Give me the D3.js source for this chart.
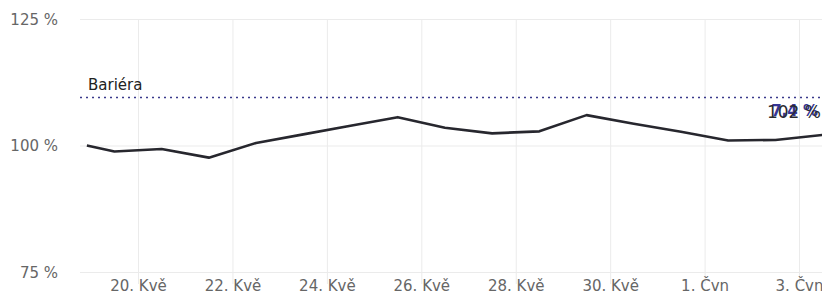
<!DOCTYPE html>
<html>
<head>
<meta charset="utf-8">
<script src="https://cdn.jsdelivr.net/npm/d3@7"></script>
<style>
  body { margin: 0; background: #fff; }
  text { font-family: "DejaVu Sans", sans-serif; }
</style>
</head>
<body>
<div id="main"></div>
<script>
var ctx = {
    w: 822,
    h: 300,
    left: 80,
    right: 822,
    top: 19,
    bottom: 272
};

// data
var dates = ["2024-05-18T22:00", "2024-05-19T12:00", "2024-05-20T12:00", "2024-05-21T12:00",
             "2024-05-22T12:00", "2024-05-23T12:00", "2024-05-24T12:00", "2024-05-25T12:00",
             "2024-05-26T12:00", "2024-05-27T12:00", "2024-05-28T12:00", "2024-05-29T12:00",
             "2024-05-30T12:00", "2024-05-31T12:00", "2024-06-01T12:00", "2024-06-02T12:00",
             "2024-06-03T12:00"];
var values = [100.0, 98.8, 99.3, 97.6, 100.5, 102.2, 103.9, 105.6, 103.5, 102.4, 102.8, 106.0,
              104.3, 102.7, 101.0, 101.1, 102.1];
var barrier = 109.5;
var barrierLabel = "Bariéra";
var yTicks = [75, 100, 125];
var xTicks = ["2024-05-20", "2024-05-22", "2024-05-24", "2024-05-26", "2024-05-28",
              "2024-05-30", "2024-06-01", "2024-06-03"];
var lastLabel = "102 %";
var distLabel = "7,4 %";

var parse = d3.timeParse("%Y-%m-%dT%H:%M");
var parseDay = d3.timeParse("%Y-%m-%d");

var cs = d3.timeFormatLocale({
    dateTime: "%A, %e. %B %Y, %X",
    date: "%-d. %-m. %Y",
    time: "%H:%M:%S",
    periods: ["AM", "PM"],
    days: ["neděle", "pondělí", "úterý", "středa", "čvrtek", "pátek", "sobota"],
    shortDays: ["ne.", "po.", "út.", "st.", "čt.", "pá.", "so."],
    months: ["leden", "únor", "březen", "duben", "květen", "červen", "červenec", "srpen", "září", "říjen", "listopad", "prosinec"],
    shortMonths: ["Led", "Úno", "Bře", "Dub", "Kvě", "Čvn", "Čvc", "Srp", "Zář", "Říj", "Lis", "Pro"]
});
var fmt = cs.format("%-d. %b");

var data = dates.map(function(d, i) { return { date: parse(d), value: values[i] }; });

var x = d3.scaleTime()
    .domain([parse("2024-05-18T18:30"), parse("2024-06-03T11:41")])
    .range([ctx.left, ctx.right]);
var y = d3.scaleLinear()
    .domain([75, 125])
    .range([ctx.bottom, ctx.top]);

var svg = d3.select("#main").append("svg")
    .attr("width", ctx.w)
    .attr("height", ctx.h);

// horizontal grid + y labels
var yAxis = d3.axisLeft(y)
    .tickValues(yTicks)
    .tickSize(-(ctx.right - ctx.left))
    .tickPadding(22)
    .tickFormat(function(d) { return d + " %"; });
var gy = svg.append("g")
    .attr("transform", "translate(" + ctx.left + ",0)")
    .call(yAxis);
gy.select(".domain").remove();
gy.selectAll("line").attr("stroke", "#ebebeb");
gy.selectAll("text")
    .attr("fill", "#666")
    .style("font-size", "15px")
    .attr("dy", "0.35em");

// vertical grid + x labels
var xAxis = d3.axisBottom(x)
    .tickValues(xTicks.map(parseDay))
    .tickSize(-(ctx.bottom - ctx.top))
    .tickFormat(fmt);
var gx = svg.append("g")
    .attr("transform", "translate(0," + (ctx.bottom + 12) + ")")
    .call(xAxis);
gx.select(".domain").remove();
gx.selectAll("line")
    .attr("stroke", "#ebebeb")
    .attr("y2", -(ctx.bottom - ctx.top + 12));
gx.selectAll("text")
    .attr("fill", "#666")
    .style("font-size", "15px")
    .attr("y", 7)
    .attr("dy", 0);

var plot = svg.append("g");

// barrier
plot.append("line")
    .attr("x1", ctx.left)
    .attr("x2", ctx.right)
    .attr("y1", y(barrier))
    .attr("y2", y(barrier))
    .attr("stroke", "#3a3a8c")
    .attr("stroke-width", 1.6)
    .attr("stroke-dasharray", "2,4");

plot.append("text")
    .attr("x", ctx.left + 8)
    .attr("y", y(barrier) - 7)
    .attr("fill", "#222")
    .style("font-size", "15px")
    .text(barrierLabel);

// series
var line = d3.line()
    .x(function(d) { return x(d.date); })
    .y(function(d) { return y(d.value); });

plot.append("path")
    .datum(data)
    .attr("fill", "none")
    .attr("stroke", "#27272e")
    .attr("stroke-width", 2.6)
    .attr("stroke-linejoin", "round")
    .attr("d", line);

// end labels
var last = data[data.length - 1];
plot.append("text")
    .attr("x", ctx.right - 4)
    .attr("y", y(last.value) - 19)
    .attr("text-anchor", "end")
    .attr("fill", "#363696")
    .style("font-size", "15px")
    .style("font-weight", "bold")
    .text(distLabel);

plot.append("text")
    .attr("x", ctx.right - 1)
    .attr("y", y(last.value) - 17)
    .attr("text-anchor", "end")
    .attr("fill", "#2a2a30")
    .style("font-size", "17px")
    .text(lastLabel);
</script>
</body>
</html>
